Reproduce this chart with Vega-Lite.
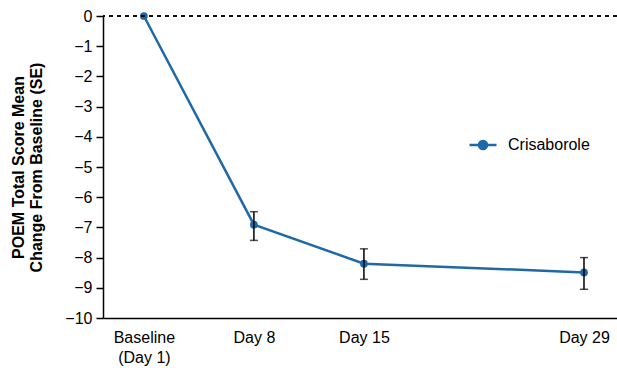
{
  "$schema": "https://vega.github.io/schema/vega-lite/v6.json",
  "autosize": "none",
  "width": 514,
  "height": 302,
  "padding": {"left": 103, "top": 16, "right": 0, "bottom": 50},
  "config": {
    "view": {"stroke": null},
    "font": "Liberation Sans",
    "axis": {"grid": false, "domainColor": "black", "tickColor": "black", "labelColor": "black", "titleColor": "black", "labelFontSize": 16, "titleFontSize": 16, "domainWidth": 1.5, "tickWidth": 1.5, "labelOverlap": false}
  },
  "data": {
    "values": [
      {"day": 1, "mean": 0, "lower": null, "upper": null, "treatment": "Crisaborole"},
      {"day": 8, "mean": -6.91, "lower": -7.43, "upper": -6.48, "treatment": "Crisaborole"},
      {"day": 15, "mean": -8.2, "lower": -8.72, "upper": -7.71, "treatment": "Crisaborole"},
      {"day": 29, "mean": -8.49, "lower": -9.05, "upper": -8.0, "treatment": "Crisaborole"}
    ]
  },
  "encoding": {
    "x": {
      "field": "day", "type": "quantitative",
      "scale": {"domain": [-1.6, 31.1], "nice": false, "zero": false},
      "axis": {
        "values": [1, 8, 15, 29], "ticks": false, "title": null, "labelPadding": 11,
        "labelExpr": "datum.value == 1 ? ['Baseline', '(Day 1)'] : 'Day ' + datum.value",
        "labelLineHeight": 20
      }
    }
  },
  "layer": [
    {
      "mark": {"type": "line", "strokeWidth": 2.5, "point": {"filled": true, "size": 60, "opacity": 1}},
      "encoding": {
        "y": {
          "field": "mean", "type": "quantitative",
          "scale": {"domain": [-10, 0], "nice": false},
          "axis": {
            "values": [-10, -9, -8, -7, -6, -5, -4, -3, -2, -1, 0],
            "tickCount": 11,
            "labelOverlap": false, "labelFlush": false, "labelBound": false,
            "tickSize": 7, "labelPadding": 4,
            "title": ["POEM Total Score Mean", "Change From Baseline (SE)"],
            "titleFontWeight": "bold", "titlePadding": 20, "titleLineHeight": 18
          }
        },
        "color": {
          "field": "treatment", "type": "nominal",
          "scale": {"range": ["#1f69a8"]},
          "legend": {
            "orient": "none", "legendX": 365, "legendY": 114, "title": null,
            "labelFontSize": 16, "labelColor": "black", "padding": 0,
            "symbolType": "M-1,0H1M-0.3,0A0.3,0.3 0 1,0 0.3,0A0.3,0.3 0 1,0 -0.3,0",
            "symbolSize": 729, "symbolStrokeWidth": 2.5, "symbolFillColor": "#1f69a8", "symbolStrokeColor": "#1f69a8",
            "labelOffset": 10
          }
        }
      }
    },
    {
      "mark": {"type": "rule", "color": "black", "strokeDash": [4, 4], "strokeWidth": 1},
      "encoding": {"y": {"datum": 0, "type": "quantitative"}, "x": null}
    },
    {
      "mark": {"type": "rule", "color": "black", "strokeWidth": 1.5},
      "transform": [{"filter": "datum.lower != null"}],
      "encoding": {
        "y": {"field": "lower", "type": "quantitative"},
        "y2": {"field": "upper"}
      }
    },
    {
      "mark": {"type": "tick", "color": "black", "orient": "horizontal", "size": 8, "thickness": 1.5},
      "transform": [{"filter": "datum.lower != null"}],
      "encoding": {"y": {"field": "lower", "type": "quantitative"}}
    },
    {
      "mark": {"type": "tick", "color": "black", "orient": "horizontal", "size": 8, "thickness": 1.5},
      "transform": [{"filter": "datum.lower != null"}],
      "encoding": {"y": {"field": "upper", "type": "quantitative"}}
    }
  ]
}
